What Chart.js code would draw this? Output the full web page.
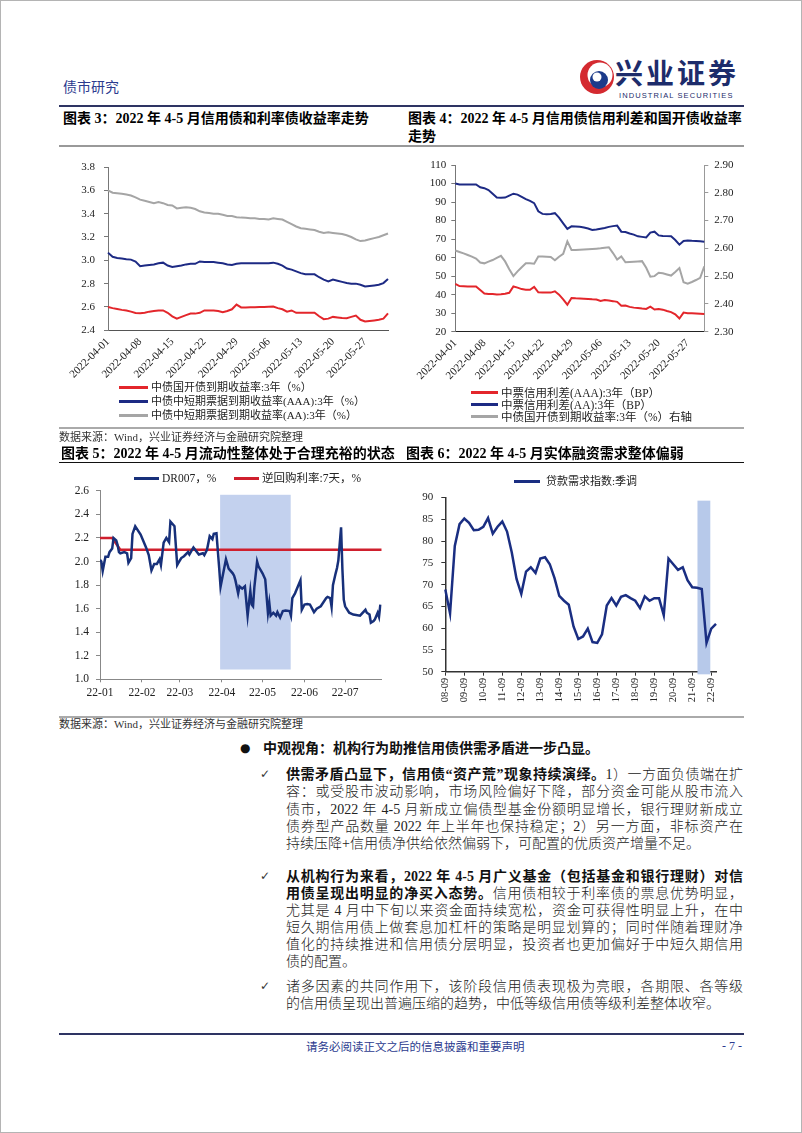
<!DOCTYPE html>
<html lang="zh-CN">
<head>
<meta charset="utf-8">
<title>债市研究</title>
<script src="https://cdn.jsdelivr.net/npm/chart.js@4.4.1/dist/chart.umd.min.js"></script>
<style>
	body { margin: 0; background: #fff; }
	#page { position: relative; width: 802px; height: 1133px; box-sizing: border-box; border: 1px solid #b4b4b4; overflow: hidden; font-family: 'Liberation Serif', 'Noto Sans CJK SC', serif; color: #111; }
	.abs { position: absolute; white-space: nowrap; }
	.rule { position: absolute; left: 58px; width: 685px; }
	.title { font-size: 14px; font-weight: bold; line-height: 17px; color: #000; }
	.src { font-size: 11px; line-height: 14px; color: #333; }
	.lg { position: absolute; font-size: 11px; line-height: 14px; white-space: nowrap; color: #222; }
	.lgline { position: absolute; height: 2.5px; }
	.cv { position: absolute; }
	.bl { position: absolute; left: 285px; width: 457px; font-size: 14px; line-height: 17px; text-align: justify; text-align-last: justify; color: #222; font-weight: 300; }
	.bl.last { text-align-last: left; }
	.bl b { font-weight: 700; color: #111; }
	.chk { position: absolute; left: 259px; font-family: 'DejaVu Sans', sans-serif; font-size: 12px; line-height: 17px; color: #333; }
</style>
</head>
<body>
<div id="page">
	<!-- 页眉 -->
	<div class="abs" style="left:62px; top:76px; font-size:14px; line-height:18px; color:#2c3b8f; font-family:'Noto Sans CJK SC';">债市研究</div>
	<svg class="abs" style="left:577px; top:56px;" width="38" height="40" viewBox="0 0 38 40">
		<circle cx="19" cy="20" r="17" fill="#d42a30"/>
		<circle cx="22" cy="18" r="12.5" fill="#fff"/>
		<circle cx="21" cy="23" r="9" fill="#1b3a8a"/>
		<circle cx="19" cy="20" r="4.5" fill="#fff"/>
	</svg>
	<div class="abs" style="left:614px; top:55px; font-size:28px; line-height:32px; font-weight:bold; color:#1d2c6b; font-family:'Noto Sans CJK SC'; letter-spacing:3px;">兴业证券</div>
	<div class="abs" style="left:618px; top:90px; font-size:7.5px; line-height:9px; color:#1d2c6b; font-family:'Liberation Sans'; letter-spacing:1.1px;">INDUSTRIAL SECURITIES</div>
	<div class="rule" style="top:104px; height:2px; background:#2e3463;"></div>

	<!-- 图表 3 / 4 -->
	<div class="abs title" style="left:62px; top:108.5px;">图表 3：2022 年 4-5 月信用债和利率债收益率走势</div>
	<div class="abs title" style="left:407px; top:108.5px;">图表 4：2022 年 4-5 月信用债信用利差和国开债收益率</div>
	<div class="abs title" style="left:407px; top:126.5px;">走势</div>
	<div class="rule" style="top:144px; height:1.5px; background:#999;"></div>

	<div class="cv" style="left:58px; top:150px;"><canvas id="c3" width="340" height="232"></canvas></div>
	<div class="lgline" style="left:118px; top:385px; width:29px; background:#e3262b;"></div>
	<div class="lg" style="left:150px; top:379px;">中债国开债到期收益率:3年（%）</div>
	<div class="lgline" style="left:118px; top:399px; width:29px; background:#1d2a84;"></div>
	<div class="lg" style="left:150px; top:393px;">中债中短期票据到期收益率(AAA):3年（%）</div>
	<div class="lgline" style="left:118px; top:413px; width:29px; background:#a5a5a5;"></div>
	<div class="lg" style="left:150px; top:407px;">中债中短期票据到期收益率(AA):3年（%）</div>

	<div class="cv" style="left:400px; top:150px;"><canvas id="c4" width="345" height="235"></canvas></div>
	<div class="lgline" style="left:470px; top:390px; width:27px; background:#e3262b;"></div>
	<div class="lg" style="left:500px; top:384.5px; font-size:11.5px;">中票信用利差(AAA):3年（BP）</div>
	<div class="lgline" style="left:470px; top:402px; width:27px; background:#1d2a84;"></div>
	<div class="lg" style="left:500px; top:396.5px; font-size:11.5px;">中票信用利差(AA):3年（BP）</div>
	<div class="lgline" style="left:470px; top:414px; width:27px; background:#a5a5a5;"></div>
	<div class="lg" style="left:500px; top:408.5px; font-size:11.5px;">中债国开债到期收益率:3年（%）右轴</div>

	<div class="rule" style="top:426px; height:1.5px; background:#aaa;"></div>
	<div class="abs src" style="left:58px; top:429px;">数据来源：Wind，兴业证券经济与金融研究院整理</div>

	<!-- 图表 5 / 6 -->
	<div class="abs title" style="left:60px; top:444px;">图表 5：2022 年 4-5 月流动性整体处于合理充裕的状态</div>
	<div class="abs title" style="left:405px; top:444px;">图表 6：2022 年 4-5 月实体融资需求整体偏弱</div>
	<div class="rule" style="top:460.5px; height:1.5px; background:#111;"></div>

	<div class="cv" style="left:58px; top:476px;"><canvas id="c5" width="340" height="227"></canvas></div>
	<div class="lgline" style="left:133px; top:475.5px; width:25px; height:3px; background:#17307a;"></div>
	<div class="lg" style="left:161px; top:470px; font-size:11.5px;">DR007，%</div>
	<div class="lgline" style="left:233px; top:475.5px; width:25px; height:3px; background:#cf1f2d;"></div>
	<div class="lg" style="left:261px; top:470px; font-size:11.5px;">逆回购利率:7天，%</div>

	<div class="cv" style="left:400px; top:482px;"><canvas id="c6" width="340" height="225"></canvas></div>
	<div class="lgline" style="left:513px; top:478.5px; width:26px; height:3px; background:#1a2e82;"></div>
	<div class="lg" style="left:545px; top:473px;">贷款需求指数:季调</div>

	<div class="rule" style="top:715px; height:1.5px; background:#aaa;"></div>
	<div class="abs src" style="left:58px; top:716px;">数据来源：Wind，兴业证券经济与金融研究院整理</div>

	<!-- 正文 -->
	<div class="abs" style="left:239px; top:738.5px; font-size:12px; line-height:17px; font-family:'DejaVu Sans';">●</div>
	<div class="abs" style="left:262px; top:738.5px; font-size:14px; line-height:17px; font-weight:700;">中观视角：机构行为助推信用债供需矛盾进一步凸显。</div>

	<div class="chk" style="top:764.5px;">✓</div>
	<div class="bl" style="top:764.5px;"><b>供需矛盾凸显下，信用债“资产荒”现象持续演绎。</b>1）一方面负债端在扩</div>
	<div class="bl" style="top:782px;">容：或受股市波动影响，市场风险偏好下降，部分资金可能从股市流入</div>
	<div class="bl" style="top:799.5px;">债市，2022 年 4-5 月新成立偏债型基金份额明显增长，银行理财新成立</div>
	<div class="bl" style="top:816.5px;">债券型产品数量 2022 年上半年也保持稳定；2）另一方面，非标资产在</div>
	<div class="bl last" style="top:833.5px;">持续压降+信用债净供给依然偏弱下，可配置的优质资产增量不足。</div>

	<div class="chk" style="top:866.5px;">✓</div>
	<div class="bl" style="top:866.5px;"><b>从机构行为来看，2022 年 4-5 月广义基金（包括基金和银行理财）对信</b></div>
	<div class="bl" style="top:883.5px;"><b>用债呈现出明显的净买入态势。</b>信用债相较于利率债的票息优势明显，</div>
	<div class="bl" style="top:900.5px;">尤其是 4 月中下旬以来资金面持续宽松，资金可获得性明显上升，在中</div>
	<div class="bl" style="top:917.5px;">短久期信用债上做套息加杠杆的策略是明显划算的；同时伴随着理财净</div>
	<div class="bl" style="top:934.5px;">值化的持续推进和信用债分层明显，投资者也更加偏好于中短久期信用</div>
	<div class="bl last" style="top:951.5px;">债的配置。</div>

	<div class="chk" style="top:976.5px;">✓</div>
	<div class="bl" style="top:976.5px;">诸多因素的共同作用下，该阶段信用债表现极为亮眼，各期限、各等级</div>
	<div class="bl last" style="top:993.5px;">的信用债呈现出普遍压缩的趋势，中低等级信用债等级利差整体收窄。</div>

	<!-- 页脚 -->
	<div class="rule" style="top:1032px; height:2px; background:#2e3463;"></div>
	<div class="abs" style="left:305px; top:1037.5px; font-size:11.5px; line-height:15px; color:#2c3b8f; font-family:'Noto Sans CJK SC';">请务必阅读正文之后的信息披露和重要声明</div>
	<div class="abs" style="left:721px; top:1037.5px; font-size:12px; line-height:15px; color:#2c3b8f;">- 7 -</div>
</div>

<script>
	// 日期类目（自然日）
	function dayLabels(start, n) {
		var out = [];
		var d = new Date(start + 'T00:00:00Z');
		for (var i = 0; i < n; i++) {
			out.push(d.toISOString().slice(0, 10));
			d.setUTCDate(d.getUTCDate() + 1);
		}
		return out;
	}

	// 图表3：收益率（%）
	var yieldDates = dayLabels('2022-04-01', 62);
	var cdbYield = [2.60,2.59,2.583,2.575,2.57,2.56,2.548,2.546,2.55,2.56,2.565,2.57,2.57,2.55,2.52,2.50,2.515,2.53,2.543,2.543,2.55,2.57,2.57,2.57,2.565,2.555,2.565,2.58,2.62,2.596,2.596,2.597,2.598,2.60,2.60,2.602,2.603,2.59,2.58,2.56,2.57,2.55,2.55,2.55,2.55,2.55,2.52,2.495,2.50,2.515,2.51,2.505,2.503,2.515,2.526,2.49,2.475,2.48,2.485,2.49,2.50,2.545];
	var aaaYield = [3.066,3.03,3.02,3.015,3.01,3.006,2.99,2.95,2.955,2.96,2.965,2.975,2.98,2.955,2.943,2.95,2.955,2.965,2.97,2.97,2.99,2.985,2.985,2.985,2.98,2.975,2.965,2.96,2.97,2.975,2.975,2.975,2.975,2.975,2.975,2.975,2.98,2.97,2.955,2.93,2.92,2.905,2.89,2.88,2.88,2.88,2.855,2.835,2.82,2.835,2.825,2.815,2.805,2.80,2.80,2.79,2.775,2.78,2.785,2.79,2.805,2.84];
	var aaYield = [3.60,3.58,3.575,3.57,3.565,3.556,3.54,3.52,3.51,3.50,3.49,3.50,3.49,3.475,3.47,3.445,3.45,3.455,3.45,3.44,3.42,3.41,3.405,3.40,3.40,3.39,3.38,3.38,3.37,3.366,3.365,3.36,3.36,3.355,3.355,3.35,3.36,3.355,3.35,3.33,3.31,3.29,3.275,3.27,3.265,3.26,3.245,3.235,3.24,3.235,3.23,3.225,3.215,3.20,3.18,3.165,3.17,3.18,3.19,3.20,3.215,3.23];

	// 图表4：信用利差（BP）和国开债收益率（%，右轴）
	var spreadDates = dayLabels('2022-04-01', 61);
	var aaaSpread = [45.8,44.6,44.5,44.4,44.4,44.4,42.5,40.6,40.4,40.3,40.1,40.2,40.5,41,44.4,43.8,43.0,42.7,42.6,44.2,41.3,41.2,41.1,41.1,41.8,40,37.5,34.6,38.2,38.0,37.9,37.8,37.7,37.5,37.4,36.6,37.1,36.8,36.5,36.1,34,34.1,33.4,33,32.8,32.5,32.3,33.5,32.0,32.3,31.9,31.2,30.6,29.4,27.1,30.3,30.0,29.9,29.8,29.7,29.6];
	var aaSpread = [100,99.5,99.5,99.5,99.5,99.5,98,97.5,96.5,94.5,92.5,92.3,92.4,93.5,94.5,94,92.8,91.6,90.6,89.4,85,83.6,83.4,83.5,84,81.6,78.5,75.5,76.9,76.8,76.6,76.2,75.7,74.9,75.2,75.6,76,76.6,77.0,77.3,74.0,73.8,73,72.4,71.5,71.2,70.9,73.5,74,72,71.7,71.6,71.5,69.5,67.0,69.0,69.3,69.1,69.0,68.8,68.6];
	var cdbYieldRight = [2.592,2.587,2.582,2.576,2.57,2.563,2.549,2.546,2.552,2.558,2.566,2.573,2.553,2.525,2.50,2.517,2.532,2.546,2.546,2.545,2.571,2.571,2.57,2.569,2.557,2.57,2.58,2.625,2.594,2.594,2.595,2.596,2.597,2.598,2.599,2.60,2.602,2.604,2.583,2.56,2.571,2.55,2.551,2.552,2.553,2.554,2.53,2.498,2.50,2.512,2.51,2.506,2.502,2.515,2.529,2.478,2.473,2.479,2.486,2.494,2.535];

	// 图表5：DR007 与 7天逆回购利率（x = 2022-01-01 起的天数）
	var monthStarts = [0, 31, 59, 90, 120, 151, 181];
	var monthLabels = ['22-01', '22-02', '22-03', '22-04', '22-05', '22-06', '22-07'];
	var dr007Days = [0,1,2,4,6,7,9,10,12,13,14,15,18,20,21,23,24,26,30,34,36,38,40,42,44,45,47,49,51,52,55,57,58,60,62,65,66,69,71,73,76,77,79,81,83,84,86,88,89,93,95,98,99,100,102,103,105,107,109,111,112,113,114,116,117,120,122,124,125,126,128,130,131,133,135,137,140,141,142,144,148,149,151,153,155,158,160,163,167,168,170,171,172,174,175,176,178,179,180,181,184,187,192,196,197,199,200,202,203,205,206,207];
	var dr007Values = [2.014,2.0,1.92,2.04,2.04,2.08,2.11,2.20,2.18,2.14,2.08,2.07,2.08,2.07,1.99,2.03,2.235,2.30,2.23,2.12,2.055,1.925,1.98,1.98,2.02,1.97,2.16,2.20,2.165,2.34,2.30,1.97,1.99,2.03,2.045,2.08,2.06,2.12,2.09,2.06,2.07,2.055,2.10,2.215,2.19,2.235,2.24,1.945,1.786,2.02,1.94,1.90,1.88,1.84,1.73,1.79,1.77,1.79,1.54,1.75,1.635,1.62,1.786,2.0,1.96,1.90,1.85,1.565,1.65,1.54,1.565,1.54,1.57,1.525,1.58,1.585,1.58,1.54,1.69,1.73,1.84,1.59,1.635,1.64,1.635,1.57,1.60,1.62,1.69,1.70,1.69,1.615,1.80,1.90,1.945,2.01,2.29,1.93,1.676,1.62,1.565,1.55,1.54,1.59,1.565,1.55,1.48,1.495,1.51,1.565,1.53,1.635];
	var repoDays = [0, 9, 15, 208];
	var repoValues = [2.2, 2.2, 2.1, 2.1];
	var dr007Shade = { x0: 88.7, x1: 140.8, y0: 1.083, y1: 2.567 };

	// 图表6：贷款需求指数（季调），季度
	var loanQuarters = [];
	for (var y = 8; y <= 22; y++) {
		['03', '06', '09', '12'].forEach(function(m) {
			if (y === 8 && (m === '03' || m === '06')) return;
			loanQuarters.push((y < 10 ? '0' + y : '' + y) + '-' + m);
		});
	}
	var loanDemand = [68.9,63.4,78.9,83.9,85.2,84.2,82.5,82.6,83.3,85.3,81.7,83.3,84.5,82.2,77.4,71.3,67.9,73,74,72.7,76,76.3,74.7,71.5,67.4,66.3,65.4,60.4,57.5,58.1,59.9,56.8,56.6,58.6,65.2,66.9,65.2,67.2,67.6,66.9,66.3,64.6,67.3,66.3,66.9,66.9,63.0,76.0,74.7,73.4,74.0,71.0,69.4,69.3,69.0,56.6,59.9,61.0];
	var loanShade = { x0: 53.1, x1: 55.8, y0: 49.4, y1: 89.3 };

	var RED = '#e3262b', NAVY = '#1d2a84', GREY = '#a5a5a5';

	Chart.defaults.font.family = "'Liberation Serif', 'Noto Sans CJK SC', serif";
	Chart.defaults.font.size = 11;
	Chart.defaults.color = '#222';
	Chart.defaults.animation = false;

	// 阴影区间
	var shadePlugin = {
		id: 'shade',
		beforeDatasetsDraw: function(chart, args, opts) {
			if (!opts || opts.x0 === undefined) return;
			var xs = chart.scales.x, ys = chart.scales.y;
			var left = xs.getPixelForValue(opts.x0), right = xs.getPixelForValue(opts.x1);
			var top = ys.getPixelForValue(opts.y1), bottom = ys.getPixelForValue(opts.y0);
			var ctx = chart.ctx;
			ctx.save();
			ctx.fillStyle = opts.color;
			ctx.fillRect(left, top, right - left, bottom - top);
			ctx.restore();
		}
	};

	function weekTick(value, index) {
		return index % 7 === 0 ? this.getLabelForValue(value) : null;
	}

	function line(label, data, color, width, axis) {
		return { label: label, data: data, borderColor: color, backgroundColor: color, borderWidth: width || 2, pointRadius: 0, tension: 0, yAxisID: axis || 'y' };
	}

	var noPlug = { legend: { display: false }, tooltip: { enabled: false } };

	// 图表3
	new Chart(document.getElementById('c3'), {
		type: 'line',
		data: {
			labels: yieldDates,
			datasets: [
				line('中债国开债到期收益率:3年（%）', cdbYield, RED),
				line('中债中短期票据到期收益率(AAA):3年（%）', aaaYield, NAVY),
				line('中债中短期票据到期收益率(AA):3年（%）', aaYield, GREY)
			]
		},
		options: {
			responsive: false,
			layout: { padding: { top: 16, right: 11, left: 0, bottom: 0 } },
			plugins: noPlug,
			scales: {
				x: {
					grid: { display: false, drawTicks: false },
					border: { color: '#555' },
					ticks: { autoSkip: false, minRotation: 45, maxRotation: 45, padding: 5, callback: weekTick },
					afterFit: function(s) { s.height = 52.7; }
				},
				y: {
					min: 2.4, max: 3.8,
					ticks: { stepSize: 0.2, padding: 9, callback: function(v) { return v.toFixed(1); } },
					grid: { drawOnChartArea: false, tickLength: 4, color: '#777' },
					border: { color: '#777' },
					afterFit: function(s) { s.width = 49; }
				}
			}
		}
	});

	// 图表4
	new Chart(document.getElementById('c4'), {
		type: 'line',
		data: {
			labels: spreadDates,
			datasets: [
				line('中票信用利差(AAA):3年（BP）', aaaSpread, RED),
				line('中票信用利差(AA):3年（BP）', aaSpread, NAVY),
				line('中债国开债到期收益率:3年（%）右轴', cdbYieldRight, GREY, 2, 'y1')
			]
		},
		options: {
			responsive: false,
			layout: { padding: { top: 14, right: 0, left: 0, bottom: 0 } },
			plugins: noPlug,
			scales: {
				x: {
					grid: { display: false, drawTicks: false },
					border: { color: '#222' },
					ticks: { autoSkip: false, minRotation: 45, maxRotation: 45, padding: 5, callback: weekTick },
					afterFit: function(s) { s.height = 54.3; }
				},
				y: {
					min: 20, max: 110,
					ticks: { stepSize: 10, padding: 5 },
					grid: { drawOnChartArea: false, tickLength: 4, color: '#777' },
					border: { color: '#777' },
					afterFit: function(s) { s.width = 54.3; }
				},
				y1: {
					position: 'right',
					min: 2.3, max: 2.9,
					ticks: { stepSize: 0.1, padding: 6, callback: function(v) { return v.toFixed(2); } },
					grid: { drawOnChartArea: false, tickLength: 4, color: '#999' },
					border: { color: '#999' },
					afterFit: function(s) { s.width = 41.7; }
				}
			}
		}
	});

	// 图表5
	new Chart(document.getElementById('c5'), {
		type: 'line',
		data: {
			datasets: [
				line('DR007，%', dr007Days.map(function(d, i) { return { x: d, y: dr007Values[i] }; }), '#17307a', 2.5),
				line('逆回购利率:7天，%', repoDays.map(function(d, i) { return { x: d, y: repoValues[i] }; }), '#cf1f2d', 2.5)
			]
		},
		plugins: [shadePlugin],
		options: {
			responsive: false,
			layout: { padding: { top: 8.3, right: 17.3, left: 0, bottom: 0 } },
			plugins: {
				legend: { display: false }, tooltip: { enabled: false },
				shade: { x0: dr007Shade.x0, x1: dr007Shade.x1, y0: dr007Shade.y0, y1: dr007Shade.y1, color: '#c3d1ee' }
			},
			scales: {
				x: {
					type: 'linear', min: 0, max: 208,
					afterBuildTicks: function(s) { s.ticks = monthStarts.map(function(v) { return { value: v }; }); },
					ticks: { autoSkip: false, maxRotation: 0, padding: 4, font: { size: 11.5 }, callback: function(v, i) { return monthLabels[i]; } },
					grid: { drawOnChartArea: false, tickLength: 3, color: '#888' },
					border: { color: '#888' },
					afterFit: function(s) { s.height = 24.7; }
				},
				y: {
					min: 1.0, max: 2.6,
					ticks: { stepSize: 0.2, padding: 7, font: { size: 11.5 }, callback: function(v) { return v.toFixed(1); } },
					grid: { drawOnChartArea: false, tickLength: 4, color: '#888' },
					border: { color: '#888' },
					afterFit: function(s) { s.width = 41; }
				}
			}
		}
	});

	// 图表6
	new Chart(document.getElementById('c6'), {
		type: 'line',
		data: {
			labels: loanQuarters,
			datasets: [ line('贷款需求指数:季调', loanDemand, '#1a2e82', 2.5) ]
		},
		plugins: [shadePlugin],
		options: {
			responsive: false,
			layout: { padding: { top: 8, right: 25, left: 0, bottom: 0 } },
			plugins: {
				legend: { display: false }, tooltip: { enabled: false },
				shade: { x0: loanShade.x0, x1: loanShade.x1, y0: loanShade.y0, y1: loanShade.y1, color: '#b7c9ea' }
			},
			scales: {
				x: {
					ticks: {
						autoSkip: false, minRotation: 90, maxRotation: 90, padding: 2, font: { size: 10.5 },
						callback: function(v) { var l = this.getLabelForValue(v); return l.slice(-2) === '09' ? l : null; }
					},
					grid: { drawOnChartArea: false, tickLength: 4, color: '#333' },
					border: { color: '#333', width: 1.5 },
					afterFit: function(s) { s.height = 36.3; }
				},
				y: {
					min: 50, max: 90,
					ticks: { stepSize: 5, padding: 8, font: { size: 11 } },
					grid: { drawOnChartArea: false, tickLength: 4, color: '#333' },
					border: { color: '#333', width: 1.5 },
					afterFit: function(s) { s.width = 44.3; }
				}
			}
		}
	});
</script>
</body>
</html>
